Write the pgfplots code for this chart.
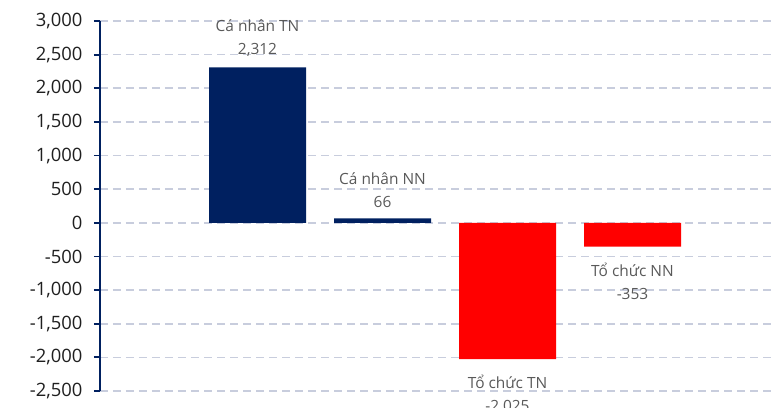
\documentclass[border=0pt]{standalone}
\usepackage{fontspec}
\setmainfont{Open Sans}
\usepackage{pgfplots}
\pgfplotsset{compat=1.18}
\definecolor{navy}{HTML}{002060}
\definecolor{gridc}{HTML}{C8CDDD}
\definecolor{lbl}{HTML}{595959}
\begin{document}
\begin{tikzpicture}
\begin{axis}[
 scale only axis, width=675bp, height=370bp,
 xmin=-1.26, xmax=4.14, ymin=-2500, ymax=3000,
 ytick={-2500,-2000,...,3000},
 axis y line*=left, axis x line=none,
 ymajorgrids, grid style={gridc, dash pattern=on 8bp off 5bp, line width=1.6bp},
 y axis line style={navy, line width=1.8bp, -},
 ytick style={navy, line width=1.8bp},
 tick align=outside, major tick length=6bp,
 yticklabel style={font=\fontsize{18.5}{20}\selectfont, text=black!88, xshift=-8bp},
 /pgf/number format/.cd, assume math mode=true, 1000 sep={,},
 /pgfplots/.cd,
 ybar, bar width=97bp, bar shift=0pt,
 point meta=explicit symbolic,
 nodes near coords={\pgfplotspointmeta},
 nodes near coords style={font=\fontsize{15.5}{23}\selectfont, text=lbl, align=center, inner sep=0pt},
 clip=false,
]
\addplot[fill=navy, draw=none, every node near coord/.append style={anchor=south, yshift=11bp}]
 coordinates {(0,2312) [Cá nhân TN\\2,312] (1,66) [Cá nhân NN\\66]};
\addplot[fill=red, draw=none, every node near coord/.append style={anchor=north, yshift=-16bp}]
 coordinates {(2,-2025) [Tổ chức TN\\-2{,}025] (3,-353) [Tổ chức NN\\-353]};
\end{axis}
\pgfresetboundingbox
\path[use as bounding box] ([shift={(-100bp,-17bp)}]current axis.south west) rectangle ([shift={(0bp,21bp)}]current axis.north east);
\end{tikzpicture}
\end{document}
